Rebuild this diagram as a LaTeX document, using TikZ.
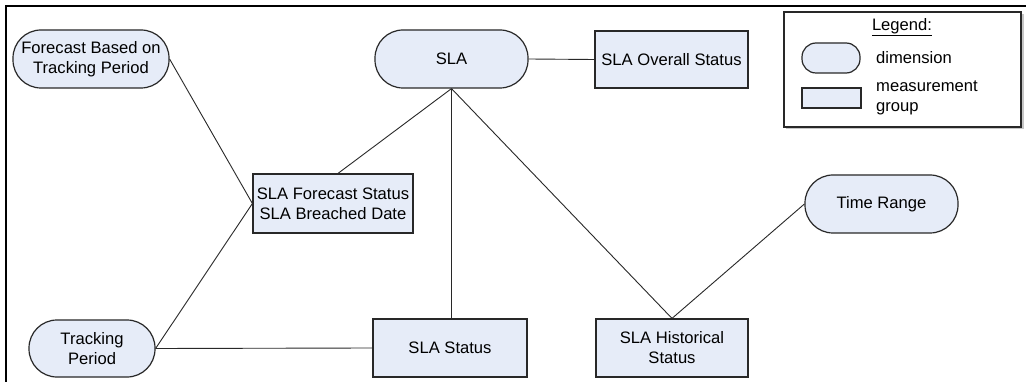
\documentclass[tikz,border=0pt]{standalone}
\usepackage{fontspec}
\setmainfont{Liberation Sans}
\definecolor{boxfill}{RGB}{230,236,248}
\definecolor{edge}{RGB}{40,40,40}
\begin{document}
\begin{tikzpicture}[x=1pt,y=-1pt,
  every node/.style={font=\fontsize{16.6}{20}\selectfont, text=black, inner sep=0pt},
  dimnode/.style={draw=edge, line width=1.2pt, fill=boxfill, rounded corners=28pt, align=center},
  mgroup/.style={draw=edge, line width=1.2pt, fill=boxfill, align=center},
  conn/.style={draw=edge, line width=0.9pt}]
\useasboundingbox (0,0) rectangle (1026,382);
\fill[white] (0,0) rectangle (1026,382);
% frame
\draw[black, line width=1.8pt] (6,382) -- (6,6) -- (1026,6);
% nodes
\node[dimnode, minimum width=156pt, minimum height=58pt] (fbtp) at (91,59) {Forecast Based on\\Tracking Period};
\node[dimnode, minimum width=153pt, minimum height=58pt] (sla) at (451.5,59) {SLA};
\node[mgroup, minimum width=153pt, minimum height=57pt] (overall) at (671.5,59.5) {SLA Overall Status};
\node[mgroup, minimum width=160pt, minimum height=59pt] (fcst) at (333,203.5) {SLA Forecast Status\\SLA Breached Date};
\node[dimnode, minimum width=126pt, minimum height=57pt] (tp) at (92,348.5) {Tracking\\Period};
\node[mgroup, minimum width=154pt, minimum height=58pt] (status) at (450,348) {SLA Status};
\node[mgroup, minimum width=152pt, minimum height=58pt] (hist) at (672,348) {SLA Historical\\Status};
\node[dimnode, minimum width=153pt, minimum height=58pt] (tr) at (881.5,204) {Time Range};
% connectors
\draw[conn] (sla.east) -- (overall.west);
\draw[conn] (fbtp.east) -- (fcst.west);
\draw[conn] (tp.east) -- (fcst.west);
\draw[conn] (sla.south) -- ([xshift=5pt]fcst.north);
\draw[conn] (sla.south) -- ([xshift=1.5pt]status.north);
\draw[conn] (sla.south) -- (hist.north);
\draw[conn] (tr.west) -- (hist.north);
\draw[conn] (tp.east) -- (status.west);
% legend
\fill[gray!45] (786,14) rectangle (1023.5,129.5);
\node[draw=edge, line width=1.2pt, fill=white, minimum width=237pt, minimum height=115pt] (legend) at (902.5,69.5) {};
\node (legtitle) at (902,27) {\underline{Legend:}};
\node[draw=edge, line width=1.2pt, fill=boxfill, rounded corners=14pt, minimum width=58pt, minimum height=30pt] (legdim) at (831,58) {};
\node[draw=edge, line width=1.2pt, fill=boxfill, minimum width=59pt, minimum height=20pt] (legmg) at (831.5,98) {};
\node[anchor=west] (legdimtext) at (876,58) {dimension};
\node[anchor=west, align=left] (legmgtext) at (876,98) {measurement\\group};
\end{tikzpicture}
\end{document}
